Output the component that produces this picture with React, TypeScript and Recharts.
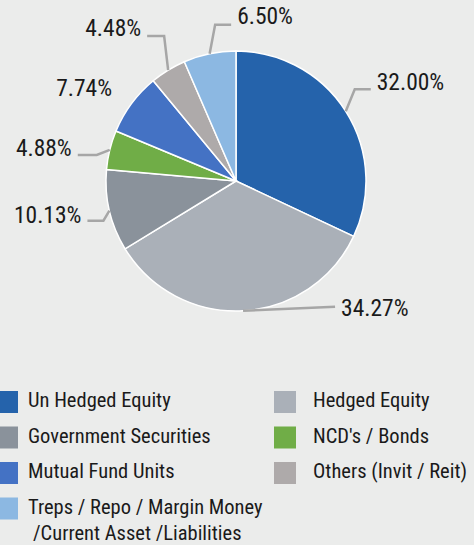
import React from 'react';
import { PieChart, Pie, Cell, Legend } from 'recharts';

const categories = [
  'Un Hedged Equity',
  'Hedged Equity',
  'Government Securities',
  "NCD's / Bonds",
  'Mutual Fund Units',
  'Others (Invit / Reit)',
  'Treps / Repo / Margin Money\n /Current Asset /Liabilities',
];
const values = [32.0, 34.27, 10.13, 4.88, 7.74, 4.48, 6.5];
const valueLabels = ['32.00%', '34.27%', '10.13%', '4.88%', '7.74%', '4.48%', '6.50%'];
const colors = ['#2563ab', '#aab0b8', '#8a929b', '#70ad47', '#4472c4', '#aeaaaa', '#8cb8e2'];

// leader layout relative to the slice's outer edge point at its mid angle
const labelLayout = [
  { ex: 9, ey: -22, hx: 16, tdy: 1, line: true },
  { ex: 92, ey: -4, hx: 0, tdy: 9, line: true },
  { ex: -6, ey: 10, hx: -16, tdy: 2, line: true },
  { ex: -13, ey: 5, hx: -19, tdy: 1, line: true },
  { ex: 0, ey: 0, hx: -13.5, tdy: -8, line: false },
  { ex: -4, ey: -34, hx: -17, tdy: 0, line: true },
  { ex: 5.5, ey: -29, hx: 16, tdy: -1, line: true },
];

const data = categories.map((name, i) => ({ name, value: values[i], label: valueLabels[i] }));

const FONT = "'Liberation Sans Narrow', 'Roboto Condensed', 'DejaVu Sans Condensed', sans-serif";
const RADIAN = Math.PI / 180;

const renderLabel = (props: any) => {
  const { cx, cy, midAngle, outerRadius, index } = props;
  const lay = labelLayout[index];
  const px = cx + outerRadius * Math.cos(-midAngle * RADIAN);
  const py = cy + outerRadius * Math.sin(-midAngle * RADIAN);
  const bx = px + lay.ex;
  const by = py + lay.ey;
  const ex = bx + lay.hx;
  const right = lay.hx > 0 || (lay.hx === 0 && lay.ex > 0);
  const tx = right ? ex + 6 : ex - 6;
  return (
    <g key={`lab-${index}`}>
      {lay.line && (
        <polyline
          points={`${px},${py} ${bx},${by} ${ex},${by}`}
          fill="none"
          stroke="#a6a6a6"
          strokeWidth={2.5}
        />
      )}
      <text
        x={tx}
        y={by + lay.tdy}
        textAnchor={right ? 'start' : 'end'}
        fill="#1a1a1a"
        fontSize={23.5}
        fontFamily={FONT}
      >
        {valueLabels[index]}
      </text>
    </g>
  );
};

const LegendContent = () => (
  <svg width={474} height={160} style={{ display: 'block' }}>
    {categories.map((name, i) => {
      const col = i % 2;
      const row = Math.floor(i / 2);
      const cyRow = 17 + row * 35.5;
      const sx = col === 0 ? -4 : 274;
      const tx = col === 0 ? 28 : 313;
      const lines = name.split('\n');
      return (
        <g key={name}>
          <rect x={sx} y={cyRow - 11} width={22} height={22} fill={colors[i]} />
          <text x={tx} y={cyRow + 5} fontSize={20.5} fontFamily={FONT} fill="#1a1a1a">
            {lines.map((ln, j) => (
              <tspan key={j} x={j === 0 ? tx : tx + 5} dy={j === 0 ? 0 : 26} style={{ whiteSpace: 'pre' }}>
                {ln.trim()}
              </tspan>
            ))}
          </text>
        </g>
      );
    })}
  </svg>
);

export default function App() {
  return (
    <div style={{ width: 474, height: 545, background: '#ebeceb', position: 'relative', overflow: 'hidden' }}>
      <style>{`body{margin:0;background:#ebeceb;}`}</style>
      <PieChart width={474} height={545} margin={{ top: 0, right: 0, bottom: 0, left: 0 }}>
        <Pie
          data={data}
          dataKey="value"
          nameKey="name"
          cx={236}
          cy={181}
          outerRadius={130}
          startAngle={90}
          endAngle={-270}
          stroke="#ffffff"
          strokeWidth={1.5}
          label={renderLabel}
          labelLine={false}
          isAnimationActive={false}
        >
          {data.map((d, i) => (
            <Cell key={d.name} fill={colors[i]} />
          ))}
        </Pie>
        <Legend
          content={<LegendContent />}
          wrapperStyle={{ position: 'absolute', top: 385, left: 0, width: 474, height: 160 }}
        />
      </PieChart>
    </div>
  );
}
